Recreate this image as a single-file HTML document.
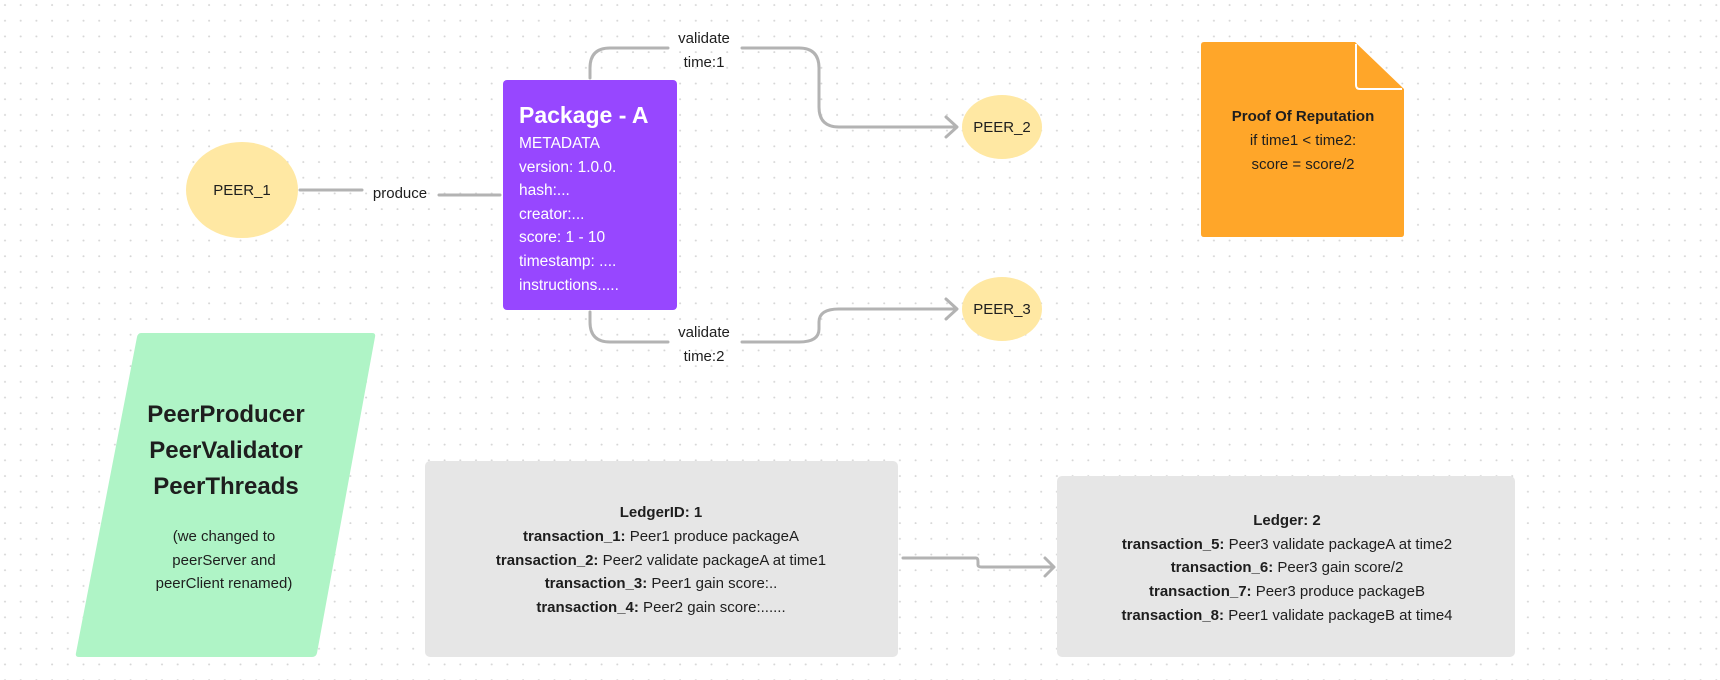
<!DOCTYPE html>
<html><head><meta charset="utf-8"><style>
html,body{margin:0;padding:0;background:#fff;}
svg{display:block;}
text{font-family:"Liberation Sans",sans-serif;}
</style></head><body>
<svg width="1720" height="680" viewBox="0 0 1720 680" xmlns="http://www.w3.org/2000/svg">
<defs>
<pattern id="dots" x="0" y="0" width="15.7" height="15.7" patternUnits="userSpaceOnUse">
<circle cx="5" cy="5" r="1" fill="#d6d6d6"/>
</pattern>
</defs>
<rect width="1720" height="680" fill="#fff"/>
<rect width="1720" height="680" fill="url(#dots)"/>

<g fill="none" stroke="#b3b3b3" stroke-width="3" stroke-linecap="round" stroke-linejoin="round">
<!-- produce -->
<path d="M300 190 H362"/>
<path d="M439 195 H500"/>
<!-- top validate -->
<path d="M590 78 V68 Q590 48 610 48 H668"/>
<path d="M742 48 H799 Q819 48 819 68 V107 Q819 127 839 127 H956"/>
<path d="M946 117 L957 127 L946 137"/>
<!-- bottom validate -->
<path d="M590 312 V322 Q590 342 610 342 H668"/>
<path d="M742 342 H799 Q819 342 819 329 V322 Q819 309 839 309 H956"/>
<path d="M946 299 L957 309 L946 319"/>
<!-- ledger arrow -->
<path d="M903 558 H976 Q978 558 978 562 V565 Q978 567 982 567 H1053"/>
<path d="M1045 558 L1054 567 L1045 576"/>
</g>

<!-- labels -->
<g font-size="15" fill="#1e1e1e" text-anchor="middle">
<text x="400" y="198">produce</text>
<text x="704" y="43">validate</text>
<text x="704" y="67">time:1</text>
<text x="704" y="337">validate</text>
<text x="704" y="361">time:2</text>
</g>

<!-- PEER_1 -->
<ellipse cx="242" cy="190" rx="56" ry="48" fill="#ffe8a3"/>
<text x="242" y="195" font-size="15" text-anchor="middle" fill="#1e1e1e">PEER_1</text>
<!-- PEER_2 -->
<ellipse cx="1002" cy="127" rx="40" ry="32" fill="#ffe8a3"/>
<text x="1002" y="132" font-size="15" text-anchor="middle" fill="#1e1e1e">PEER_2</text>
<!-- PEER_3 -->
<ellipse cx="1002" cy="309" rx="40" ry="32" fill="#ffe8a3"/>
<text x="1002" y="314" font-size="15" text-anchor="middle" fill="#1e1e1e">PEER_3</text>

<!-- Package A -->
<rect x="503" y="80" width="174" height="230" rx="4" fill="#9747ff"/>
<text x="519" y="123" font-size="23" font-weight="bold" fill="#fff">Package - A</text>
<g font-size="15.5" fill="#fff">
<text x="519" y="148">METADATA</text>
<text x="519" y="172">version: 1.0.0.</text>
<text x="519" y="195">hash:...</text>
<text x="519" y="219">creator:...</text>
<text x="519" y="242">score: 1 - 10</text>
<text x="519" y="266">timestamp: ....</text>
<text x="519" y="290">instructions.....</text>
</g>

<!-- Orange note -->
<path d="M1204 42 H1355 L1404 89 V234 Q1404 237 1401 237 H1204 Q1201 237 1201 234 V45 Q1201 42 1204 42 Z" fill="#ffa629"/>
<path d="M1356 44 V85 Q1356 89 1360 89 H1402" fill="none" stroke="#fff" stroke-width="2"/>
<g font-size="15" fill="#1e1e1e" text-anchor="middle">
<text x="1303" y="121" font-weight="bold">Proof Of Reputation</text>
<text x="1303" y="145">if time1 &lt; time2:</text>
<text x="1303" y="169">score = score/2</text>
</g>

<!-- Green parallelogram -->
<path d="M141 333 H372 Q376 333 375 337 L317 653 Q316 657 312 657 H79 Q75 657 76 653 L137 337 Q138 333 141 333 Z" fill="#aff4c6"/>
<g font-size="24" font-weight="bold" fill="#1e1e1e" text-anchor="middle">
<text x="226" y="422">PeerProducer</text>
<text x="226" y="458">PeerValidator</text>
<text x="226" y="494">PeerThreads</text>
</g>
<g font-size="15" fill="#1e1e1e" text-anchor="middle">
<text x="224" y="541">(we changed to</text>
<text x="224" y="565">peerServer and</text>
<text x="224" y="588">peerClient renamed)</text>
</g>

<!-- Ledger 1 -->
<rect x="425" y="461" width="473" height="196" rx="5" fill="#e6e6e6"/>
<g font-size="15" fill="#1e1e1e" text-anchor="middle">
<text x="661" y="517"><tspan font-weight="bold">LedgerID: 1</tspan></text>
<text x="661" y="541"><tspan font-weight="bold">transaction_1:</tspan> Peer1 produce packageA</text>
<text x="661" y="565"><tspan font-weight="bold">transaction_2:</tspan> Peer2 validate packageA at time1</text>
<text x="661" y="588"><tspan font-weight="bold">transaction_3:</tspan> Peer1 gain score:..</text>
<text x="661" y="612"><tspan font-weight="bold">transaction_4:</tspan> Peer2 gain score:......</text>
</g>

<!-- Ledger 2 -->
<rect x="1057" y="476" width="458" height="181" rx="5" fill="#e6e6e6"/>
<g font-size="15" fill="#1e1e1e" text-anchor="middle">
<text x="1287" y="525"><tspan font-weight="bold">Ledger: 2</tspan></text>
<text x="1287" y="549"><tspan font-weight="bold">transaction_5:</tspan> Peer3 validate packageA at time2</text>
<text x="1287" y="572"><tspan font-weight="bold">transaction_6:</tspan> Peer3 gain score/2</text>
<text x="1287" y="596"><tspan font-weight="bold">transaction_7:</tspan> Peer3 produce packageB</text>
<text x="1287" y="620"><tspan font-weight="bold">transaction_8:</tspan> Peer1 validate packageB at time4</text>
</g>
</svg>
</body></html>
